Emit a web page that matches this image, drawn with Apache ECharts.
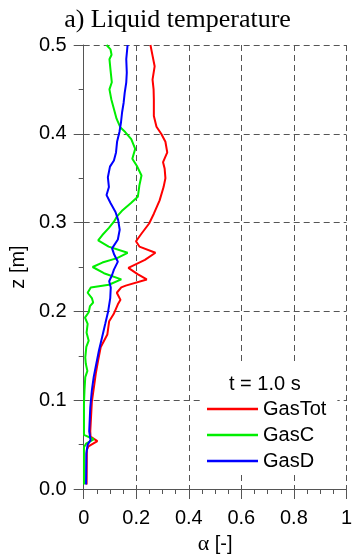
<!DOCTYPE html>
<html>
<head>
<meta charset="utf-8">
<script src="https://cdn.jsdelivr.net/npm/echarts@6/dist/echarts.min.js"></script>
<style>
	html, body { margin: 0; padding: 0; background: #fff; }
	#main { width: 355px; height: 560px; }
</style>
</head>
<body>
<div id="main"></div>
<script>
// GasTot (red)
var zTot = [0.5, 0.488, 0.476, 0.461, 0.45, 0.439, 0.42, 0.408, 0.4, 0.391, 0.379, 0.368, 0.361, 0.35, 0.34, 0.325, 0.31, 0.299, 0.288, 0.279, 0.273, 0.266, 0.258, 0.249, 0.242, 0.236, 0.229, 0.227, 0.221, 0.213, 0.208, 0.197, 0.189, 0.174, 0.16, 0.145, 0.13, 0.117, 0.098, 0.065, 0.059, 0.054, 0.048, 0.044, 0.005];
var aTot = [0.254, 0.262, 0.27, 0.262, 0.266, 0.267, 0.267, 0.277, 0.295, 0.311, 0.318, 0.302, 0.308, 0.311, 0.304, 0.289, 0.267, 0.249, 0.221, 0.199, 0.212, 0.273, 0.233, 0.17, 0.205, 0.24, 0.16, 0.143, 0.126, 0.14, 0.13, 0.114, 0.097, 0.09, 0.065, 0.055, 0.046, 0.04, 0.031, 0.025, 0.026, 0.052, 0.018, 0.012, 0.011];
// GasC (green)
var zC = [0.5, 0.495, 0.489, 0.484, 0.472, 0.458, 0.45, 0.439, 0.428, 0.417, 0.407, 0.402, 0.394, 0.383, 0.372, 0.364, 0.353, 0.342, 0.329, 0.322, 0.314, 0.307, 0.301, 0.294, 0.286, 0.28, 0.273, 0.266, 0.26, 0.255, 0.25, 0.243, 0.236, 0.23, 0.227, 0.221, 0.215, 0.21, 0.206, 0.199, 0.193, 0.186, 0.176, 0.167, 0.16, 0.148, 0.141, 0.133, 0.126, 0.111, 0.096, 0.061, 0.056, 0.051, 0.047, 0.005];
var aC = [0.087, 0.102, 0.106, 0.098, 0.102, 0.107, 0.098, 0.105, 0.115, 0.125, 0.14, 0.158, 0.181, 0.196, 0.185, 0.202, 0.22, 0.212, 0.206, 0.18, 0.148, 0.127, 0.115, 0.096, 0.071, 0.055, 0.095, 0.167, 0.127, 0.071, 0.034, 0.077, 0.143, 0.096, 0.027, 0.015, 0.031, 0.036, 0.024, 0.019, 0.005, 0.015, 0.011, 0.019, 0.01, 0.006, 0.008, 0.014, 0.006, 0.003, 0.001, 0.001, 0.038, 0.009, 0.001, 0.001];
// GasD (blue)
var zD = [0.5, 0.484, 0.469, 0.458, 0.446, 0.435, 0.424, 0.413, 0.402, 0.391, 0.379, 0.37, 0.363, 0.351, 0.34, 0.331, 0.322, 0.312, 0.303, 0.292, 0.281, 0.271, 0.264, 0.256, 0.247, 0.241, 0.234, 0.227, 0.215, 0.2, 0.186, 0.171, 0.156, 0.141, 0.126, 0.111, 0.092, 0.065, 0.055, 0.05, 0.04, 0.005];
var aD = [0.167, 0.162, 0.164, 0.162, 0.156, 0.152, 0.146, 0.142, 0.136, 0.127, 0.123, 0.115, 0.1, 0.092, 0.096, 0.087, 0.102, 0.121, 0.131, 0.137, 0.13, 0.108, 0.116, 0.13, 0.115, 0.108, 0.097, 0.103, 0.101, 0.093, 0.082, 0.07, 0.058, 0.048, 0.038, 0.031, 0.025, 0.021, 0.026, 0.015, 0.01, 0.009];

var names = ['GasTot', 'GasC', 'GasD'];
var colors = ['#ff0000', '#00ee00', '#0000ff'];

function pairs(a, z) {
	let out = [];
	for (let i = 0; i < z.length; i++) {
		out.push([a[i], z[i]]);
	}
	return out;
}

let chart = echarts.init(document.getElementById('main'), null, { renderer: 'canvas' });
let font = 'Liberation Sans, Arial, sans-serif';
let gridLine = { show: true, lineStyle: { color: '#555', type: [6, 4], width: 1 } };

let option = {
	animation: false,
	backgroundColor: '#fff',
	title: {
		text: 'a) Liquid temperature',
		left: 'center',
		top: 2,
		textStyle: { fontFamily: 'Liberation Serif, Times New Roman, serif', fontSize: 26, fontWeight: 'normal', color: '#000' }
	},
	grid: { left: 81, right: 6.5, top: 45, bottom: 67.3, containLabel: false },
	xAxis: {
		type: 'value',
		min: 0,
		max: 1,
		interval: 0.2,
		name: '{a|α} [-]',
		nameLocation: 'middle',
		nameGap: 44,
		nameTextStyle: {
			fontFamily: font, fontSize: 20, color: '#000',
			rich: { a: { fontFamily: 'Liberation Serif, serif', fontSize: 22, color: '#000' } }
		},
		axisLine: { show: true, onZero: false, lineStyle: { color: '#555', width: 1 } },
		axisTick: { show: true, length: 10, lineStyle: { color: '#555' } },
		minorTick: { show: true, splitNumber: 4, length: 5, lineStyle: { color: '#555' } },
		axisLabel: {
			margin: 19, fontFamily: font, fontSize: 20, color: '#000',
			formatter: function (v) { return (v === 0 || v === 1) ? String(v) : v.toFixed(1); }
		},
		splitLine: gridLine
	},
	yAxis: {
		type: 'value',
		min: 0,
		max: 0.5,
		interval: 0.1,
		name: 'z [m]',
		nameLocation: 'middle',
		nameGap: 48,
		nameTextStyle: { fontFamily: font, fontSize: 20, color: '#000' },
		axisLine: { show: true, onZero: false, lineStyle: { color: '#555', width: 1 } },
		axisTick: { show: true, length: 10, lineStyle: { color: '#555' } },
		minorTick: { show: true, splitNumber: 2, length: 5, lineStyle: { color: '#555' } },
		axisLabel: {
			margin: 17, fontFamily: font, fontSize: 20, color: '#000',
			formatter: function (v) { return v.toFixed(1); }
		},
		splitLine: gridLine
	},
	legend: {
		data: names,
		orient: 'vertical',
		left: 200,
		top: 363,
		padding: [36, 11, 4, 7],
		backgroundColor: '#fff',
		icon: 'rect',
		itemWidth: 51,
		itemHeight: 2.5,
		itemGap: 6,
		textStyle: { fontFamily: font, fontSize: 20, color: '#000', lineHeight: 20 }
	},
	graphic: [{
		type: 'text',
		z: 100,
		left: 229,
		top: 374,
		style: { text: 't = 1.0 s', font: '20px Liberation Sans, Arial, sans-serif', fill: '#000' }
	}],
	series: [
		{ name: names[0], type: 'line', data: pairs(aTot, zTot), symbol: 'none', lineStyle: { color: colors[0], width: 2 }, itemStyle: { color: colors[0] } },
		{ name: names[1], type: 'line', data: pairs(aC, zC), symbol: 'none', lineStyle: { color: colors[1], width: 2 }, itemStyle: { color: colors[1] } },
		{ name: names[2], type: 'line', data: pairs(aD, zD), symbol: 'none', lineStyle: { color: colors[2], width: 2 }, itemStyle: { color: colors[2] } }
	]
};
option && chart.setOption(option);
</script>
</body>
</html>
